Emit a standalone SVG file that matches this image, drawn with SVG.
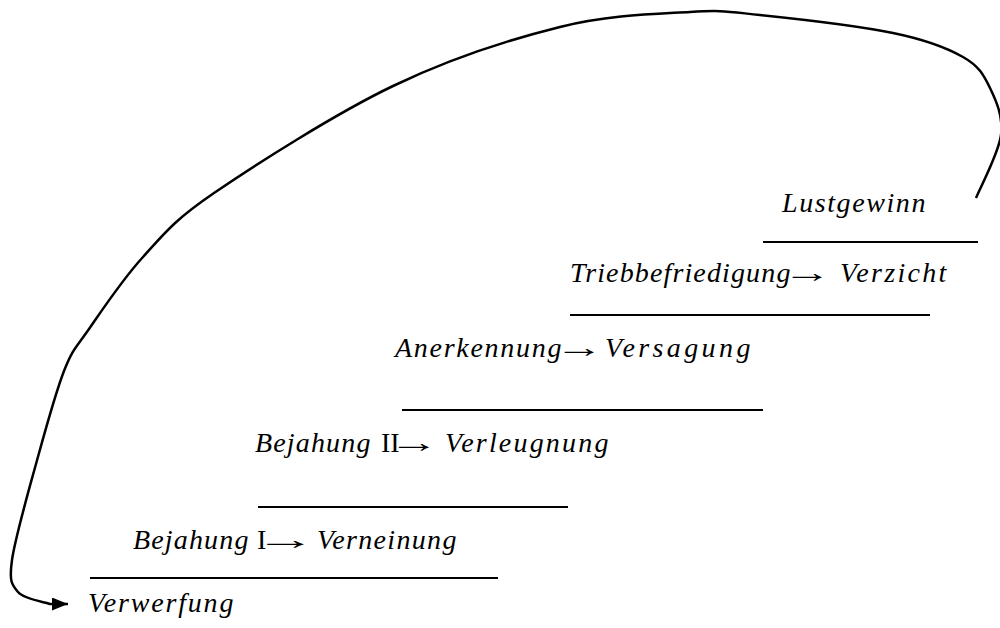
<svg xmlns="http://www.w3.org/2000/svg" width="1000" height="628" viewBox="0 0 1000 628">
<style>
text{font-family:"Liberation Serif","Times New Roman","DejaVu Serif",serif;font-size:28px;font-style:italic;letter-spacing:1.6px;fill:#000}
.u{font-style:normal;letter-spacing:0}
.ar{font-style:normal;letter-spacing:0}
.bar{stroke:#000;stroke-width:2}
.conn{fill:none;stroke:#000;stroke-width:2.5}
</style>
<defs>
<marker id="ah" markerWidth="17" markerHeight="14" refX="16" refY="6.5" orient="auto" markerUnits="userSpaceOnUse" viewBox="0 0 17 14">
<path d="M0,0 L16,6.5 L0,13 z" fill="#000"/>
</marker>
</defs>
<rect width="1000" height="628" fill="#fff"/>
<g id="n-lustgewinn"><text x="782" y="212" textLength="145">Lustgewinn</text><line class="bar" x1="763" y1="242" x2="978" y2="242"/></g>
<g id="n-trieb"><text x="570" y="282" textLength="222">Triebbefriedigung</text><text class="ar" transform="translate(783,282) scale(1.75,1)">→</text><text x="840" y="282" textLength="108">Verzicht</text><line class="bar" x1="570" y1="315" x2="930" y2="315"/></g>
<g id="n-anerkennung"><text x="395" y="357" textLength="168">Anerkennung</text><text class="ar" transform="translate(555,357) scale(1.75,1)">→</text><text x="605" y="357" textLength="147">Versagung</text><line class="bar" x1="402" y1="410" x2="763" y2="410"/></g>
<g id="n-bejahung2"><text x="255" y="452" textLength="117">Bejahung</text><text class="u" x="381" y="452">II</text><text class="ar" transform="translate(389,452) scale(1.8,1)">→</text><text x="445" y="452" textLength="165">Verleugnung</text><line class="bar" x1="258" y1="507" x2="568" y2="507"/></g>
<g id="n-bejahung1"><text x="133" y="549" textLength="117">Bejahung</text><text class="u" x="257" y="549">I</text><text class="ar" transform="translate(255,549) scale(2.2,1)">→</text><text x="317" y="549" textLength="141">Verneinung</text><line class="bar" x1="90" y1="578" x2="498" y2="578"/></g>
<g id="n-verwerfung"><text x="88" y="612" textLength="147">Verwerfung</text></g>
<g id="connectors">
<path class="conn" marker-end="url(#ah)" d="M976,198 C980.2,187.5 998.7,153.3 1001,135 C1003.3,116.7 996.3,101 990,88 C983.7,75 979.2,66.2 963,57 C946.8,47.8 926.8,40 893,33 C859.2,26 793.8,18.5 760,15 C726.2,11.5 723.3,10 690,12 C656.7,14 609.5,14.7 560,27 C510.5,39.3 450.7,58.3 393,86 C335.3,113.7 255.7,164.5 214,193 C172.3,221.5 163.8,234.3 143,257 C122.2,279.7 102.2,310 89,329 C75.8,348 72.8,348.5 64,371 C55.2,393.5 44.7,432.5 36,464 C27.3,495.5 15,538.7 12,560 C9,581.3 11.7,584.7 18,592 C24.3,599.3 44.7,602 50,604 L68,604"/>
</g>
</svg>
